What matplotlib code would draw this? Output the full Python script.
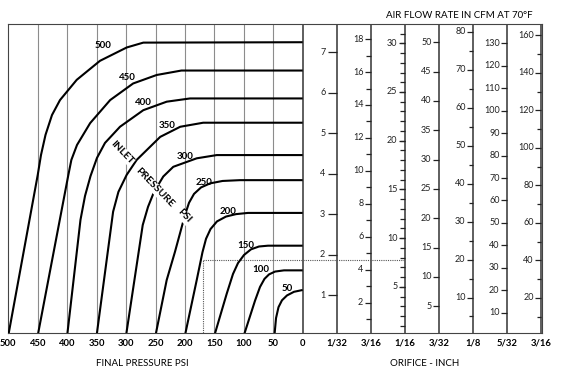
import numpy as np
import matplotlib.pyplot as plt

plt.rcParams['font.family'] = ['Lato', 'DejaVu Sans']

# inlet pressure curves: final pressure (psi) and flow read on the 1/32" scale
p_500 = [500, 450, 444.5, 436.8, 425.8, 412.2, 383.8, 344.3, 298.9, 270.7, 0]
f_500 = [0, 3.97, 4.46, 4.96, 5.45, 5.82, 6.32, 6.79, 7.12, 7.24, 7.25]
p_450 = [450, 398, 392.9, 383.3, 361, 327, 288, 248, 206, 0]
f_450 = [0, 3.97, 4.34, 4.71, 5.25, 5.82, 6.23, 6.44, 6.55, 6.55]
p_400 = [400, 377.4, 369.7, 360.4, 349.4, 335.8, 310.3, 270.7, 231, 191.4, 0]
f_400 = [0, 2.86, 3.45, 3.94, 4.39, 4.76, 5.16, 5.57, 5.78, 5.86, 5.86]
p_350 = [350, 322, 313, 299, 282, 242, 208, 169, 0]
f_350 = [0, 3.06, 3.55, 3.97, 4.34, 4.91, 5.16, 5.26, 5.26]
p_300 = [300, 271.7, 262.7, 252.5, 236.8, 219.8, 180, 146, 0]
f_300 = [0, 2.73, 3.18, 3.55, 3.93, 4.17, 4.38, 4.46, 4.46]
p_250 = [250, 231, 216.9, 199.9, 193.1, 184.6, 172.7, 157.4, 136.2, 106.5, 0]
f_250 = [0, 1.37, 2.07, 2.98, 3.28, 3.50, 3.66, 3.76, 3.82, 3.84, 3.84]
p_200 = [200, 180, 170.2, 164.2, 156.6, 145.6, 130.3, 113.3, 93, 0]
f_200 = [0, 1.37, 2.06, 2.39, 2.63, 2.82, 2.94, 3.00, 3.03, 3.03]
p_150 = [150, 129.1, 118.4, 109.9, 99.7, 87.8, 74.2, 58.9, 0]
f_150 = [0, 1.03, 1.52, 1.79, 1.99, 2.13, 2.20, 2.22, 2.22]
p_100 = [100, 81, 72.5, 64.9, 57.2, 47, 31.8, 0]
f_100 = [0, 0.86, 1.20, 1.40, 1.51, 1.58, 1.61, 1.61]
p_50 = [48, 45.3, 41.1, 35.2, 26.7, 14.8, 0]
f_50 = [0, 0.43, 0.70, 0.87, 0.99, 1.08, 1.125]

inlet = [500, 450, 400, 350, 300, 250, 200, 150, 100, 50]
curves = [(p_500, f_500), (p_450, f_450), (p_400, f_400), (p_350, f_350),
          (p_300, f_300), (p_250, f_250), (p_200, f_200), (p_150, f_150),
          (p_100, f_100), (p_50, f_50)]
# where each inlet label sits (final psi, flow)
label_p = [339, 298, 270, 231, 200, 167, 126, 96, 71, 27]
label_f = [7.16, 6.37, 5.76, 5.18, 4.42, 3.78, 3.06, 2.22, 1.64, 1.17]

final_ticks = list(range(500, -1, -50))

# example reading: final pressure and flow on the 1/32 scale
ex_final = 169
ex_flow = 1.86

# orifice scales: cfm per unit of the 1/32 scale, labelled and minor ticks
orifice = ['1/32', '3/16', '1/16', '3/32', '1/8', '5/32', '3/16']
cfm_per_unit = [1.0, 2.457, 4.153, 6.90, 10.65, 17.98, 21.56]
major = [list(range(1, 8)), list(range(2, 19, 2)), list(range(5, 31, 5)),
         list(range(5, 51, 5)), list(range(10, 81, 10)),
         list(range(10, 131, 10)), list(range(20, 161, 20))]
minor = [[], list(range(1, 18, 2)), list(range(1, 32)), [],
         list(range(5, 76, 10)), [], list(range(10, 151, 20))]

fig = plt.figure(figsize=(5.62, 3.73), dpi=100)
ax = fig.add_axes([8.3 / 562, 1 - 333.3 / 373, 533.4 / 562, 309 / 373])
ax.set_xlim(500, -405.9)
ax.set_ylim(0.054, 7.693)
px = 905.9 / 533.4  # data units per pixel along x
col_x = [-57.85 * (i + 1) for i in range(len(orifice))]

for s in ax.spines.values():
    s.set_color('#444444')
    s.set_linewidth(0.8)

for p in final_ticks[1:-1]:
    ax.axvline(p, color='#8c8c8c', lw=0.8, zorder=1)
ax.axvline(0, color='#333333', lw=1.1, zorder=1)
for x in col_x:
    ax.axvline(x, color='#333333', lw=1.1, zorder=1)

for (p, f) in curves:
    ax.plot(p, f, color='black', lw=1.5, solid_capstyle='butt',
            solid_joinstyle='round', zorder=3)

for name, lp, lf in zip(inlet, label_p, label_f):
    ax.text(lp, lf, str(name), fontsize=7, fontweight='bold', ha='center',
            va='center', zorder=5)

for word, wp, wf in [('INLET', 307, 4.53), ('PRESSURE', 252, 3.66), ('PSI', 202, 2.95)]:
    ax.text(wp, wf, word, fontsize=7.5, fontweight='bold', rotation=-46,
            rotation_mode='anchor', ha='center', va='center', zorder=6,
            bbox=dict(facecolor='white', edgecolor='none', pad=0.6))

ax.plot([ex_final, col_x[2]], [ex_flow, ex_flow], color='#555555', lw=0.8,
        ls=(0, (1, 1)), zorder=2)
ax.plot([ex_final, ex_final], [0, ex_flow], color='#555555', lw=0.8,
        ls=(0, (1, 1)), zorder=2)

for i, x in enumerate(col_x):
    k = cfm_per_unit[i]
    tl = 9 if i == 0 else 6
    gap = 2.5 if i == 0 else 1.5
    ax.hlines(np.array(major[i]) / k, x, x + tl * px, color='#222222', lw=0.9, zorder=2)
    if minor[i]:
        ax.hlines(np.array(minor[i]) / k, x, x + 4.5 * px, color='#222222', lw=0.9, zorder=2)
    for v in major[i]:
        ax.text(x + (tl + gap) * px, v / k, str(v), fontsize=6.5, ha='right',
                va='center', color='#222222')

ax.set_xticks(final_ticks + col_x)
ax.set_xticklabels([str(p) for p in final_ticks] + orifice, fontweight='bold')
ax.tick_params(axis='x', length=0, pad=4, labelsize=6.8)
ax.set_yticks([])

fig.text(142.5 / 562, 1 - 363.3 / 373, 'FINAL PRESSURE PSI', fontsize=7,
         ha='center', va='center')
fig.text(425 / 562, 1 - 363.3 / 373, 'ORIFICE - INCH', fontsize=7,
         ha='center', va='center')
fig.text(459.5 / 562, 1 - 15 / 373, 'AIR FLOW RATE IN CFM AT 70°F', fontsize=7,
         ha='center', va='center')

fig.savefig('out.png', dpi=100)
